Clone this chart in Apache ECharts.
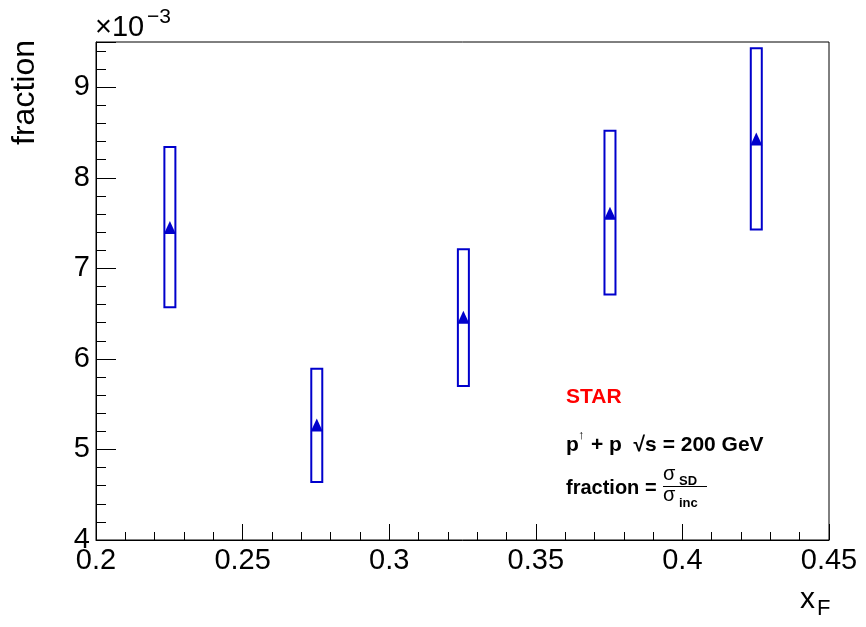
<!DOCTYPE html>
<html>
<head>
<meta charset="utf-8">
<script src="https://cdn.jsdelivr.net/npm/echarts@6/dist/echarts.min.js"></script>
<style>
html,body{margin:0;padding:0;background:#fff;}
#chart{width:866px;height:627px;}
</style>
</head>
<body>
<div id="chart"></div>
<script>
// Data (fraction in units of 1e-3)
var xF = [0.2252, 0.2753, 0.3253, 0.3753, 0.4252];
var fraction = [7.45, 5.27, 6.46, 7.61, 8.43];
var sysLow = [6.57, 4.64, 5.70, 6.71, 7.43];
var sysHigh = [8.34, 5.89, 7.21, 8.52, 9.43];
var xTickLabels = ['0.2', '0.25', '0.3', '0.35', '0.4', '0.45'];
var yTickLabels = ['4', '5', '6', '7', '8', '9'];

var BLUE = '#0000cc';
var FONT = '"Liberation Sans", Arial, Helvetica, sans-serif';
var BOX_HALF_PX = 5.5;

var chart = echarts.init(document.getElementById('chart'), null, {renderer: 'canvas'});

var points = xF.map(function (x, i) { return [x, fraction[i]]; });
var boxes = xF.map(function (x, i) { return [x, sysLow[i], sysHigh[i]]; });

function fmtX(v) {
  var s = String(parseFloat(v.toFixed(3)));
  return xTickLabels.indexOf(s) >= 0 ? s : '';
}
function fmtY(v) {
  var s = String(parseFloat(v.toFixed(3)));
  return yTickLabels.indexOf(s) >= 0 ? s : '';
}

var option = {
  animation: false,
  backgroundColor: '#fff',
  grid: {left: 96, right: 37, top: 42, bottom: 87, show: true, borderColor: '#000', borderWidth: 1, backgroundColor: 'transparent'},
  xAxis: {
    type: 'value', min: 0.2, max: 0.45, interval: 0.05,
    axisLine: {show: true, onZero: false, lineStyle: {color: '#000', width: 1}},
    axisTick: {show: true, inside: true, length: 16, lineStyle: {color: '#000', width: 1}},
    minorTick: {show: true, splitNumber: 5, length: 8, lineStyle: {color: '#000', width: 1}},
    splitLine: {show: false},
    axisLabel: {show: true, margin: 6, color: '#000', fontSize: 29, fontFamily: FONT, formatter: fmtX}
  },
  yAxis: [{
    type: 'value', min: 4, max: 9.5, interval: 1,
    axisLine: {show: true, onZero: false, lineStyle: {color: '#000', width: 1}},
    axisTick: {show: true, inside: true, length: 20, lineStyle: {color: '#000', width: 1}},
    splitLine: {show: false},
    axisLabel: {show: true, margin: 6, color: '#000', fontSize: 29, fontFamily: FONT, formatter: fmtY}
  }, {
    type: 'value', min: 4, max: 9.5, interval: 0.2, position: 'left',
    axisLine: {show: false},
    axisTick: {show: true, inside: true, length: 10, lineStyle: {color: '#000', width: 1}},
    splitLine: {show: false},
    axisLabel: {show: false}
  }],
  series: [{
    type: 'custom',
    yAxisIndex: 0,
    data: boxes,
    renderItem: function (params, api) {
      var x = api.value(0);
      var lo = api.coord([x, api.value(1)]);
      var hi = api.coord([x, api.value(2)]);
      return {
        type: 'rect',
        shape: {x: lo[0] - BOX_HALF_PX, y: hi[1], width: 2 * BOX_HALF_PX, height: lo[1] - hi[1]},
        style: {fill: 'none', stroke: BLUE, lineWidth: 2}
      };
    },
    z: 2
  }, {
    type: 'scatter',
    yAxisIndex: 0,
    data: points,
    symbol: 'triangle',
    symbolSize: [12, 13],
    itemStyle: {color: BLUE, opacity: 1},
    z: 3
  }],
  graphic: [
    {type: 'text', x: 41, y: 40, rotation: Math.PI / 2,
     style: {text: 'fraction', font: '32px ' + FONT, fill: '#000', textAlign: 'right', textVerticalAlign: 'bottom'}},
    {type: 'text', x: 95, y: 28,
     style: {text: '\u00d710', font: '29px ' + FONT, fill: '#000', textAlign: 'left', textVerticalAlign: 'middle'}},
    {type: 'text', x: 147, y: 17,
     style: {text: '\u22123', font: '21px ' + FONT, fill: '#000', textAlign: 'left', textVerticalAlign: 'middle'}},
    {type: 'text', x: 800, y: 600,
     style: {text: 'x', font: '30px ' + FONT, fill: '#000', textAlign: 'left', textVerticalAlign: 'middle'}},
    {type: 'text', x: 817, y: 609,
     style: {text: 'F', font: '22px ' + FONT, fill: '#000', textAlign: 'left', textVerticalAlign: 'middle'}},
    {type: 'text', x: 566, y: 397,
     style: {text: 'STAR', font: 'bold 21px ' + FONT, fill: '#ff0000', textAlign: 'left', textVerticalAlign: 'middle'}},
    {type: 'text', x: 566, y: 445,
     style: {text: 'p', font: 'bold 21px ' + FONT, fill: '#000', textAlign: 'left', textVerticalAlign: 'middle'}},
    {type: 'text', x: 578, y: 435,
     style: {text: '\u2191', font: '13px ' + FONT, fill: '#000', textAlign: 'left', textVerticalAlign: 'middle'}},
    {type: 'text', x: 591, y: 445,
     style: {text: '+ p  \u221as = 200 GeV', font: 'bold 21px ' + FONT, fill: '#000', textAlign: 'left', textVerticalAlign: 'middle'}},
    {type: 'text', x: 566, y: 488,
     style: {text: 'fraction =', font: 'bold 20px ' + FONT, fill: '#000', textAlign: 'left', textVerticalAlign: 'middle'}},
    {type: 'text', x: 663, y: 474,
     style: {text: '\u03c3', font: '20px ' + FONT, fill: '#000', textAlign: 'left', textVerticalAlign: 'middle'}},
    {type: 'text', x: 679, y: 481,
     style: {text: 'SD', font: 'bold 13px ' + FONT, fill: '#000', textAlign: 'left', textVerticalAlign: 'middle'}},
    {type: 'line', shape: {x1: 663, y1: 486.5, x2: 707, y2: 486.5}, style: {stroke: '#000', lineWidth: 1}},
    {type: 'text', x: 663, y: 495,
     style: {text: '\u03c3', font: '20px ' + FONT, fill: '#000', textAlign: 'left', textVerticalAlign: 'middle'}},
    {type: 'text', x: 679, y: 503,
     style: {text: 'inc', font: 'bold 13px ' + FONT, fill: '#000', textAlign: 'left', textVerticalAlign: 'middle'}}
  ]
};
chart.setOption(option);
</script>
</body>
</html>
